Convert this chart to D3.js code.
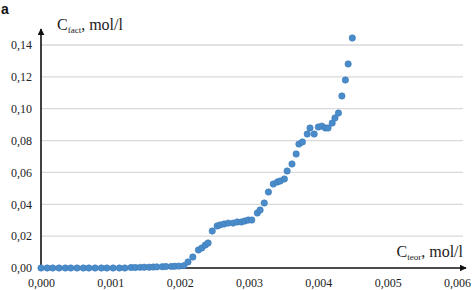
<!DOCTYPE html>
<html><head><meta charset="utf-8">
<script src="https://cdn.jsdelivr.net/npm/d3@7"></script>
<style>body{margin:0;background:#fff}svg{display:block}</style>
</head><body><svg id="c" width="476" height="290"></svg>
<script>
const xTicks = [0, 0.001, 0.002, 0.003, 0.004, 0.005, 0.006];
const yTicks = [0, 0.02, 0.04, 0.06, 0.08, 0.10, 0.12, 0.14];
const xVals = [0,0.00009,0.00017,0.00026,0.00035,0.00043,0.00052,0.00061,0.00069,0.00078,0.00087,0.00095,0.00104,0.00113,0.00121,
  0.00130,0.00136,0.00143,0.00149,0.00156,0.00162,0.00167,0.00175,0.00180,0.00188,0.00193,0.00199,0.00206,
  0.00212,0.00219,0.00227,0.00232,0.00237,0.00241,0.00247,0.00254,0.00258,0.00264,0.00270,0.00277,0.00283,0.00289,0.00294,0.00299,0.00304,
  0.00312,0.00316,0.00322,0.00328,0.00335,0.00341,0.00345,0.00351,0.00355,0.00362,0.00368,0.00372,0.00377,0.00384,0.00388,0.00394,0.00400,
  0.00405,0.00410,0.00414,0.00420,0.00424,0.00429,0.00434,0.00439,0.00443,0.00449];
const yVals = [0,0,0,0,0,0,0,0,0,0,0,0,0,0,0,
  0.0003,0.0003,0.0004,0.0005,0.0005,0.0006,0.0007,0.0008,0.0009,0.0010,0.0011,0.0012,0.0015,
  0.0038,0.0069,0.0113,0.0126,0.0144,0.0157,0.0232,0.0264,0.0270,0.0276,0.0282,0.0282,0.0289,0.0289,0.0295,0.0301,0.0301,
  0.0345,0.0364,0.0408,0.0477,0.0527,0.0540,0.0546,0.0559,0.0609,0.0653,0.0716,0.0778,0.0791,0.0841,0.0879,0.0841,0.0885,
  0.0891,0.0879,0.0879,0.0910,0.0942,0.0973,0.1080,0.1180,0.1281,0.1444];

const fmt = d3.formatLocale({decimal:",",thousands:" ",grouping:[3],currency:["",""]});
const fx = fmt.format(".3f"), fy = fmt.format(".2f");
const svg = d3.select("#c");
const x = d3.scaleLinear().domain([0,0.006]).range([41,457]);
const y = d3.scaleLinear().domain([0,0.14]).range([268,45]);
const serif = '"Liberation Serif","DejaVu Serif",serif';

// gridlines
svg.append("g").selectAll("line").data(yTicks.filter(d=>d>0)).join("line")
  .attr("x1",x(0)).attr("x2",463).attr("y1",d=>y(d)).attr("y2",d=>y(d))
  .attr("stroke","#d9d9d9").attr("stroke-width",1.3);

// axes
const yAxis = svg.append("g").attr("transform",`translate(${x(0)},0)`)
  .call(d3.axisLeft(y).tickValues(yTicks).tickFormat(fy).tickSize(0).tickPadding(9));
yAxis.attr("font-family",null).attr("font-size",null);
yAxis.select(".domain").remove();
yAxis.selectAll("text").style("font-family",serif).style("font-size","12px").attr("fill","#222");
const xAxis = svg.append("g").attr("transform",`translate(0,${y(0)})`)
  .call(d3.axisBottom(x).tickValues(xTicks).tickFormat(fx).tickSize(0).tickPadding(10));
xAxis.attr("font-family",null).attr("font-size",null);
xAxis.select(".domain").remove();
xAxis.selectAll("text").style("font-family",serif).style("font-size","12px").attr("fill","#222");

svg.append("defs").append("marker").attr("id","ar").attr("viewBox","0 0 10 10")
  .attr("refX",9).attr("refY",5).attr("markerWidth",7).attr("markerHeight",7)
  .attr("markerUnits","userSpaceOnUse").attr("orient","auto")
  .append("path").attr("d","M0,0L10,5L0,10z").attr("fill","#111");
svg.append("line").attr("x1",x(0)).attr("x2",x(0)).attr("y1",y(0)).attr("y2",29)
  .attr("stroke","#111").attr("stroke-width",1.6).attr("marker-end","url(#ar)");
svg.append("line").attr("x1",x(0)).attr("x2",466).attr("y1",y(0)).attr("y2",y(0))
  .attr("stroke","#111").attr("stroke-width",1.6).attr("marker-end","url(#ar)");

// points
svg.append("g").selectAll("circle").data(xVals.map((v,i)=>[v,yVals[i]])).join("circle")
  .attr("cx",d=>x(d[0])).attr("cy",d=>y(d[1])).attr("r",3.2)
  .attr("fill","#4a8bc9").attr("stroke","#3c7cba").attr("stroke-width",0.6);

// labels
svg.append("text").attr("x",1).attr("y",14).style("font-family","'Liberation Sans', Arial, sans-serif")
  .attr("font-weight","bold").style("font-size","14px").attr("fill","#111").text("a");
const t1 = svg.append("text").attr("x",57).attr("y",30).style("font-family",serif).style("font-size","16px").attr("fill","#222");
t1.append("tspan").text("C");
t1.append("tspan").style("font-size","9px").attr("dy",3).text("fact");
t1.append("tspan").attr("dy",-3).text(", mol/l");
const t2 = svg.append("text").attr("x",463).attr("y",257).attr("text-anchor","end").style("font-family",serif).style("font-size","16px").attr("fill","#222");
t2.append("tspan").text("C");
t2.append("tspan").style("font-size","9px").attr("dy",3).text("teor");
t2.append("tspan").attr("dy",-3).text(", mol/l");
</script></body></html>
